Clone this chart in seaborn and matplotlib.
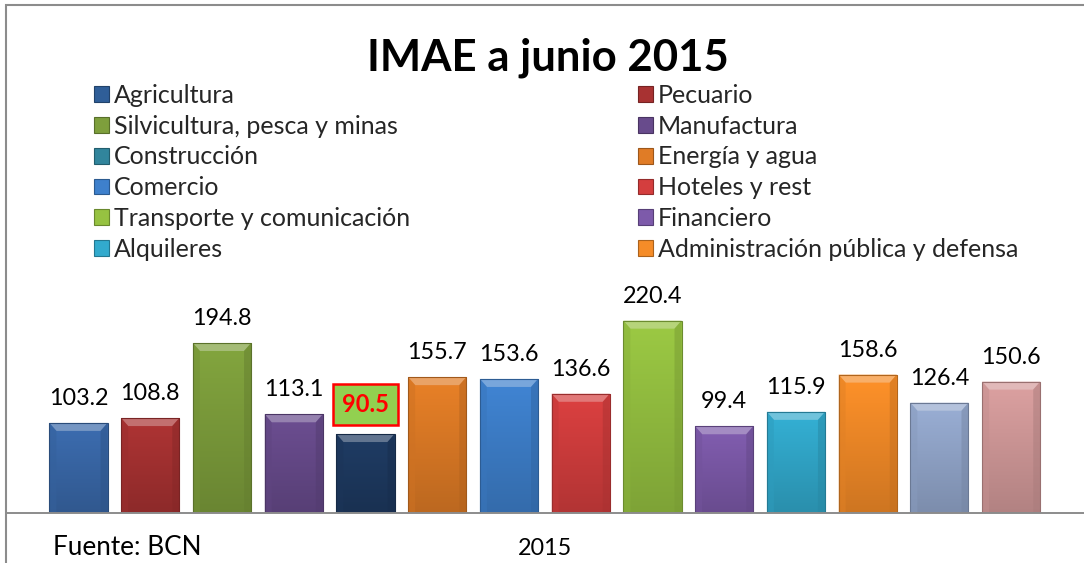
import matplotlib
matplotlib.use("Agg")
import matplotlib.pyplot as plt
import matplotlib.colors as mcolors
from matplotlib.patches import Patch, Rectangle, Polygon
import numpy as np
import pandas as pd
import seaborn as sns

# ---------------- data ----------------
title = "IMAE a junio 2015"
period = "2015"
source = "Fuente: BCN"
sectors = ["Agricultura", "Pecuario", "Silvicultura, pesca y minas", "Manufactura",
           "Construcción", "Energía y agua", "Comercio", "Hoteles y rest",
           "Transporte y comunicación", "Financiero", "Alquileres",
           "Administración pública y defensa", "Enseñanza", "Salud"]
values = [103.2, 108.8, 194.8, 113.1, 90.5, 155.7, 153.6, 136.6, 220.4, 99.4,
          115.9, 158.6, 126.4, 150.6]
bar_colors = ["#3A69AA", "#A83232", "#7E9F3C", "#684B8C", "#1E3A61", "#E07C26",
              "#3E80CC", "#D43E3E", "#96C241", "#7D5AAA", "#32AACD", "#F58C28",
              "#94A8CD", "#D49B9B"]
legend_labels = sectors[:12]
legend_colors = ["#2F5E98", "#A83232", "#7E9F3C", "#684B8C", "#31859C", "#E07C26",
                 "#3E80CC", "#D43E3E", "#96C241", "#7D5AAA", "#32AACD", "#F58C28"]
highlight = "Construcción"

# ---------------- style ----------------
sns.set_style("white")
plt.rcParams["font.family"] = ["Lato", "DejaVu Sans"]

W, H = 1084, 563
fig = plt.figure(figsize=(W / 100, H / 100), dpi=100)
ax = fig.add_axes([6 / W, 50 / H, 1078 / W, 233 / H])

df = pd.DataFrame({"period": [period] * len(values), "sector": sectors, "value": values})
sns.barplot(data=df, x="period", y="value", hue="sector", hue_order=sectors,
            palette=bar_colors, width=0.9, gap=0.19, dodge=True, saturation=1,
            legend=False, errorbar=None, linewidth=0, ax=ax)

ax.set_xlim(-0.4828, 0.4831)
ax.set_ylim(0, 267)
ax.set_xlabel("")
ax.set_ylabel("")
ax.set_yticks([])
for s in ["left", "right", "top"]:
    ax.spines[s].set_visible(False)
ax.spines["bottom"].set_color("#8C8C8C")
ax.spines["bottom"].set_linewidth(1.4)
ax.tick_params(axis="x", length=0, pad=18, labelsize=16.8, labelcolor="black")
ax.patch.set_alpha(0)

# bevel-like shading on each bar
fig.canvas.draw()
p0 = ax.transData.transform((0, 0))
p1 = ax.transData.transform((0, 1))
px_per_y = p1[1] - p0[1]
for cont, col in zip(ax.containers, bar_colors):
    for p in cont.patches:
        x0, w, h = p.get_x(), p.get_width(), p.get_height()
        base = np.array(mcolors.to_rgb(col))
        ny = 60
        t = np.linspace(0, 1, ny)[:, None, None]
        grad = np.clip(base[None, None, :] * (0.84 + 0.2 * t), 0, 1)
        grad = np.repeat(grad, 2, axis=1)
        im = ax.imshow(grad, origin="lower", extent=[x0, x0 + w, 0, h],
                       aspect="auto", zorder=2.1, interpolation="bilinear")
        im.set_clip_path(p)
        dx = w * 7 / 58
        dy = 8 / px_per_y
        light = 1 - (1 - base) * 0.7
        dark = base * 0.8
        ax.add_patch(Polygon([(x0, h), (x0 + w, h), (x0 + w - dx, h - dy), (x0 + dx, h - dy)],
                             closed=True, fc=light, ec="none", zorder=2.2))
        ax.add_patch(Polygon([(x0, 0), (x0, h), (x0 + dx, h - dy), (x0 + dx, 0)],
                             closed=True, fc=base * 0.92, ec="none", zorder=2.2, alpha=0.5))
        ax.add_patch(Polygon([(x0 + w, 0), (x0 + w, h), (x0 + w - dx, h - dy), (x0 + w - dx, 0)],
                             closed=True, fc=dark, ec="none", zorder=2.2, alpha=0.5))
        ax.add_patch(Rectangle((x0, 0), w, h, fc="none", ec=base * 0.72, lw=0.8, zorder=2.3))
ax.set_xlim(-0.4828, 0.4831)
ax.set_ylim(0, 267)

# value labels
for cont, name, v in zip(ax.containers, sectors, values):
    if name == highlight:
        ax.bar_label(cont, labels=[f"{v:.1f}"], padding=13, fontsize=17, fontweight="bold",
                     color="#FF0000", zorder=5,
                     bbox=dict(boxstyle="square,pad=0.38", fc="#92D050", ec="#FF0000", lw=1.8))
    else:
        ax.bar_label(cont, labels=[f"{v:.1f}"], padding=10, fontsize=16.8, color="black", zorder=5)

# title
fig.text(548 / W, (H - 71) / H, title, ha="center", va="baseline",
         fontsize=31.5, fontweight="bold", color="black")

# legend (two columns, row-major order as in the reference)
handles = [Patch(facecolor=c, edgecolor=mcolors.to_hex(np.array(mcolors.to_rgb(c)) * 0.7),
                 linewidth=0.8, label=l) for l, c in zip(legend_labels, legend_colors)]
common = dict(frameon=False, fontsize=18, handlelength=0.6, handleheight=0.6,
              handletextpad=0.2, labelspacing=0.31, borderpad=0, borderaxespad=0,
              loc="upper left")
fig.legend(handles=handles[0::2], bbox_to_anchor=(94 / W, (H - 84) / H), **common)
fig.legend(handles=handles[1::2], bbox_to_anchor=(638 / W, (H - 84) / H), **common)

# source note
fig.text(53 / W, (H - 555) / H, source, ha="left", va="baseline", fontsize=18.8, color="black")

# chart-area frame (left and top edges visible)
fig.patches.append(Rectangle((6 / W, -0.2), 1.3, (H - 5) / H + 0.2, transform=fig.transFigure,
                             fill=False, ec="#8C8C8C", lw=1.5, zorder=0))

fig.savefig("out.png", dpi=100)
